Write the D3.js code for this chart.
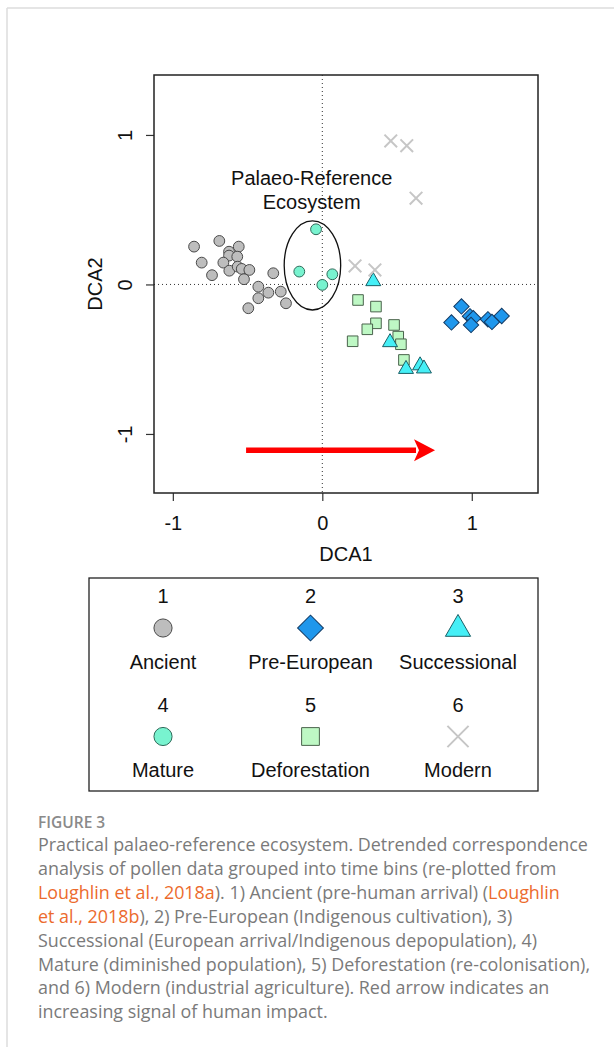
<!DOCTYPE html>
<html><head><meta charset="utf-8">
<script src="https://cdn.jsdelivr.net/npm/d3@7"></script>
<style>
html,body{margin:0;padding:0;background:#fff;}
svg{display:block;}
</style></head>
<body>
<svg id="chart" width="614" height="1047"></svg>
<script>
// ---------- DATA ----------
const ancient = [[-0.858,0.253],[-0.689,0.291],[-0.624,0.219],[-0.559,0.253],[-0.807,0.146],[-0.624,0.193],[-0.569,0.186],[-0.662,0.146],[-0.622,0.092],[-0.566,0.119],[-0.539,0.104],[-0.488,0.097],[-0.738,0.062],[-0.524,0.035],[-0.328,0.075],[-0.428,-0.015],[-0.361,-0.055],[-0.428,-0.092],[-0.278,-0.048],[-0.243,-0.126],[-0.495,-0.159]];
const preEuropean = [[0.931,-0.147],[0.864,-0.254],[0.988,-0.213],[1.010,-0.226],[0.995,-0.271],[1.108,-0.233],[1.135,-0.251],[1.200,-0.211]];
const successional = [[0.341,0.025],[0.453,-0.383],[0.560,-0.562],[0.654,-0.538],[0.680,-0.559]];
const mature = [[-0.042,0.369],[-0.154,0.086],[0.067,0.068],[0.0,-0.003]];
const deforestation = [[0.239,-0.104],[0.359,-0.148],[0.359,-0.260],[0.301,-0.300],[0.203,-0.380],[0.480,-0.271],[0.508,-0.349],[0.526,-0.400],[0.546,-0.505]];
const modern = [[0.219,0.124],[0.352,0.097],[0.458,0.960],[0.565,0.928],[0.627,0.577]];
const xTicks = [-1,0,1];
const yTicks = [-1,0,1];
const xTickLabels = ["-1","0","1"];
const yTickLabels = ["-1","0","1"];
const legendNumbers = ["1","2","3","4","5","6"];
const legendLabels = ["Ancient","Pre-European","Successional","Mature","Deforestation","Modern"];
const ellipseCenter = [-0.066,0.127];
const ellipseRadii = [0.189,0.298];
const arrowFrom = [-0.51,-1.109];
const arrowTo = [0.754,-1.109];
const annotationLines = ["Palaeo-Reference","Ecosystem"];
const captionTitle = "FIGURE 3";
const captionLines = [
  [["Practical palaeo-reference ecosystem. Detrended correspondence",0]],
  [["analysis of pollen data grouped into time bins (re-plotted from",0]],
  [["Loughlin et al., 2018a",1],["). 1) Ancient (pre-human arrival) (",0],["Loughlin",1]],
  [["et al., 2018b",1],["), 2) Pre-European (Indigenous cultivation), 3)",0]],
  [["Successional (European arrival/Indigenous depopulation), 4)",0]],
  [["Mature (diminished population), 5) Deforestation (re-colonisation),",0]],
  [["and 6) Modern (industrial agriculture). Red arrow indicates an",0]],
  [["increasing signal of human impact.",0]]
];

(function(){
// ---------- STYLES ----------
const FONT = "'Liberation Sans', Arial, sans-serif";
const styles = {
  ancient: {shape:"circle", fill:"#bdbdbd", stroke:"#4a4a4a"},
  preEuropean: {shape:"diamond", fill:"#1f97ec", stroke:"#123a63"},
  successional: {shape:"triangle", fill:"#45eff6", stroke:"#1b5f66"},
  mature: {shape:"circle", fill:"#78f3cf", stroke:"#2f6a5a"},
  deforestation: {shape:"square", fill:"#bef8c4", stroke:"#4a634c"},
  modern: {shape:"cross", fill:"none", stroke:"#c6c6c6"}
};
const legendStyleOrder = ["ancient","preEuropean","successional","mature","deforestation","modern"];

const svg = d3.select("#chart");

// card border
svg.append("line").attr("x1",7).attr("x2",614).attr("y1",8).attr("y2",8).attr("stroke","#dcdcdc").attr("stroke-width",1.5);
svg.append("line").attr("x1",7).attr("x2",7).attr("y1",8).attr("y2",1047).attr("stroke","#dcdcdc").attr("stroke-width",1.5);

// ---------- SCALES ----------
const pL=154, pR=538, pT=75, pB=493;
const x = d3.scaleLinear().domain([-1.126,1.443]).range([pL,pR]);
const y = d3.scaleLinear().domain([-1.395,1.401]).range([pB,pT]);

// dotted zero lines
svg.append("line").attr("x1",x(0)).attr("x2",x(0)).attr("y1",pT).attr("y2",pB)
  .attr("stroke","#333").attr("stroke-width",1).attr("stroke-dasharray","1,3");
svg.append("line").attr("x1",pL).attr("x2",pR).attr("y1",y(0)).attr("y2",y(0))
  .attr("stroke","#333").attr("stroke-width",1).attr("stroke-dasharray","1,3");

// axes
const xAxis = d3.axisBottom(x).tickValues(xTicks).tickSize(8).tickFormat((d,i)=>xTickLabels[i]);
const gx = svg.append("g").attr("transform",`translate(0,${pB})`).call(xAxis);
gx.select(".domain").remove();
gx.selectAll(".tick line").attr("stroke","#333").attr("stroke-width",1.2);
gx.selectAll(".tick text").attr("font-family",FONT).attr("font-size",20).attr("fill","#111")
  .attr("dy",null).attr("y",30).attr("dominant-baseline","central");

const yAxis = d3.axisLeft(y).tickValues(yTicks).tickSize(8).tickFormat((d,i)=>yTickLabels[i]);
const gy = svg.append("g").attr("transform",`translate(${pL},0)`).call(yAxis);
gy.select(".domain").remove();
gy.selectAll(".tick line").attr("stroke","#333").attr("stroke-width",1.2);
gy.selectAll(".tick text").attr("font-family",FONT).attr("font-size",20).attr("fill","#111")
  .attr("x",null).attr("dy",null).attr("text-anchor","middle").attr("dominant-baseline","central")
  .attr("transform","translate(-29,0) rotate(-90)");

// plot box
svg.append("rect").attr("x",pL).attr("y",pT).attr("width",pR-pL).attr("height",pB-pT)
  .attr("fill","none").attr("stroke","#222").attr("stroke-width",1.5);

// axis titles
svg.append("text").attr("x",(pL+pR)/2).attr("y",554).attr("text-anchor","middle").attr("dominant-baseline","central")
  .attr("font-family",FONT).attr("font-size",20).attr("fill","#111").text("DCA1");
svg.append("text").attr("transform",`translate(95,${(pT+pB)/2}) rotate(-90)`).attr("text-anchor","middle").attr("dominant-baseline","central")
  .attr("font-family",FONT).attr("font-size",20).attr("fill","#111").text("DCA2");

// ---------- SYMBOLS ----------
function drawSymbol(g, cx, cy, st, s){
  if(st.shape==="circle"){
    g.append("circle").attr("cx",cx).attr("cy",cy).attr("r",5.4*s).attr("fill",st.fill).attr("stroke",st.stroke).attr("stroke-width",1);
  } else if(st.shape==="diamond"){
    g.append("path").attr("d",d3.symbol(d3.symbolSquare, 118*s*s)()).attr("transform",`translate(${cx},${cy}) rotate(45)`)
      .attr("fill",st.fill).attr("stroke",st.stroke).attr("stroke-width",1);
  } else if(st.shape==="square"){
    g.append("path").attr("d",d3.symbol(d3.symbolSquare, 112*s*s)()).attr("transform",`translate(${cx},${cy})`)
      .attr("fill",st.fill).attr("stroke",st.stroke).attr("stroke-width",1);
  } else if(st.shape==="triangle"){
    const w=15*s, h=13*s;
    const p = d3.path();
    p.moveTo(cx, cy-h*0.62); p.lineTo(cx+w/2, cy+h*0.38); p.lineTo(cx-w/2, cy+h*0.38); p.closePath();
    g.append("path").attr("d",p.toString()).attr("fill",st.fill).attr("stroke",st.stroke).attr("stroke-width",1);
  } else if(st.shape==="cross"){
    const r=6.3*s;
    const p = d3.path();
    p.moveTo(cx-r,cy-r); p.lineTo(cx+r,cy+r); p.moveTo(cx+r,cy-r); p.lineTo(cx-r,cy+r);
    g.append("path").attr("d",p.toString()).attr("fill","none").attr("stroke",st.stroke).attr("stroke-width",2);
  }
}

const plotG = svg.append("g");
const groups = [["ancient",ancient],["preEuropean",preEuropean],["deforestation",deforestation],["successional",successional],["mature",mature],["modern",modern]];
groups.forEach(([k,data])=>{
  const g = plotG.append("g");
  data.forEach(d=>drawSymbol(g, x(d[0]), y(d[1]), styles[k], 1));
});

// ellipse
svg.append("ellipse").attr("cx",x(ellipseCenter[0])).attr("cy",y(ellipseCenter[1]))
  .attr("rx",x(ellipseRadii[0])-x(0)).attr("ry",y(0)-y(ellipseRadii[1]))
  .attr("fill","none").attr("stroke","#111").attr("stroke-width",1.3);

// annotation
svg.append("text").attr("x",x(ellipseCenter[0])).attr("y",178).attr("text-anchor","middle").attr("font-family",FONT).attr("font-size",20).attr("fill","#111")
  .selectAll("tspan").data(annotationLines).join("tspan").attr("x",x(ellipseCenter[0]-0.005)).attr("dy",(d,i)=>i===0?"0.35em":"23.5").text(d=>d);

// red arrow
const ax0=x(arrowFrom[0]), ax1=x(arrowTo[0]), ay=y(arrowFrom[1]);
const headLen=21, headHalf=11;
svg.append("line").attr("x1",ax0).attr("x2",ax1-headLen+2).attr("y1",ay).attr("y2",ay).attr("stroke","#ff0000").attr("stroke-width",5.5);
svg.append("path").attr("d",`M${ax1},${ay} L${ax1-headLen},${ay-headHalf} L${ax1-headLen+5},${ay} L${ax1-headLen},${ay+headHalf} Z`).attr("fill","#ff0000");

// ---------- LEGEND ----------
svg.append("rect").attr("x",89).attr("y",578).attr("width",449).attr("height",213).attr("fill","none").attr("stroke","#222").attr("stroke-width",1.3);
const colX = d3.scalePoint().domain([0,1,2]).range([163,458]);
const rowY = d3.scalePoint().domain([0,1]).range([0,108.5]);
legendLabels.forEach((lab,i)=>{
  const cx = colX(i%3), dy = rowY(Math.floor(i/3));
  svg.append("text").attr("x",cx).attr("y",596+dy).attr("text-anchor","middle").attr("dominant-baseline","central")
    .attr("font-family",FONT).attr("font-size",20).attr("fill","#111").text(legendNumbers[i]);
  drawSymbol(svg, cx, 628+dy, styles[legendStyleOrder[i]], 1.68);
  svg.append("text").attr("x",cx).attr("y",661.5+dy).attr("text-anchor","middle").attr("dominant-baseline","central")
    .attr("font-family",FONT).attr("font-size",20).attr("fill","#111").text(lab);
});

// ---------- CAPTION ----------
const CAPFONT = "'Open Sans', Lato, sans-serif";
svg.append("text").attr("x",38).attr("y",828).attr("font-family",CAPFONT).attr("font-size",15.5).attr("font-weight",600)
  .attr("fill","#8a8a8a").text(captionTitle);
captionLines.forEach((line,i)=>{
  const t = svg.append("text").attr("x",38).attr("y",851+i*23.9).attr("font-family",CAPFONT).attr("font-size",17.9).attr("fill","#7a7a7a");
  line.forEach(([s,link])=>t.append("tspan").attr("fill",link?"#ec6b2d":"#7a7a7a").text(s));
});
})();
</script>
</body></html>
